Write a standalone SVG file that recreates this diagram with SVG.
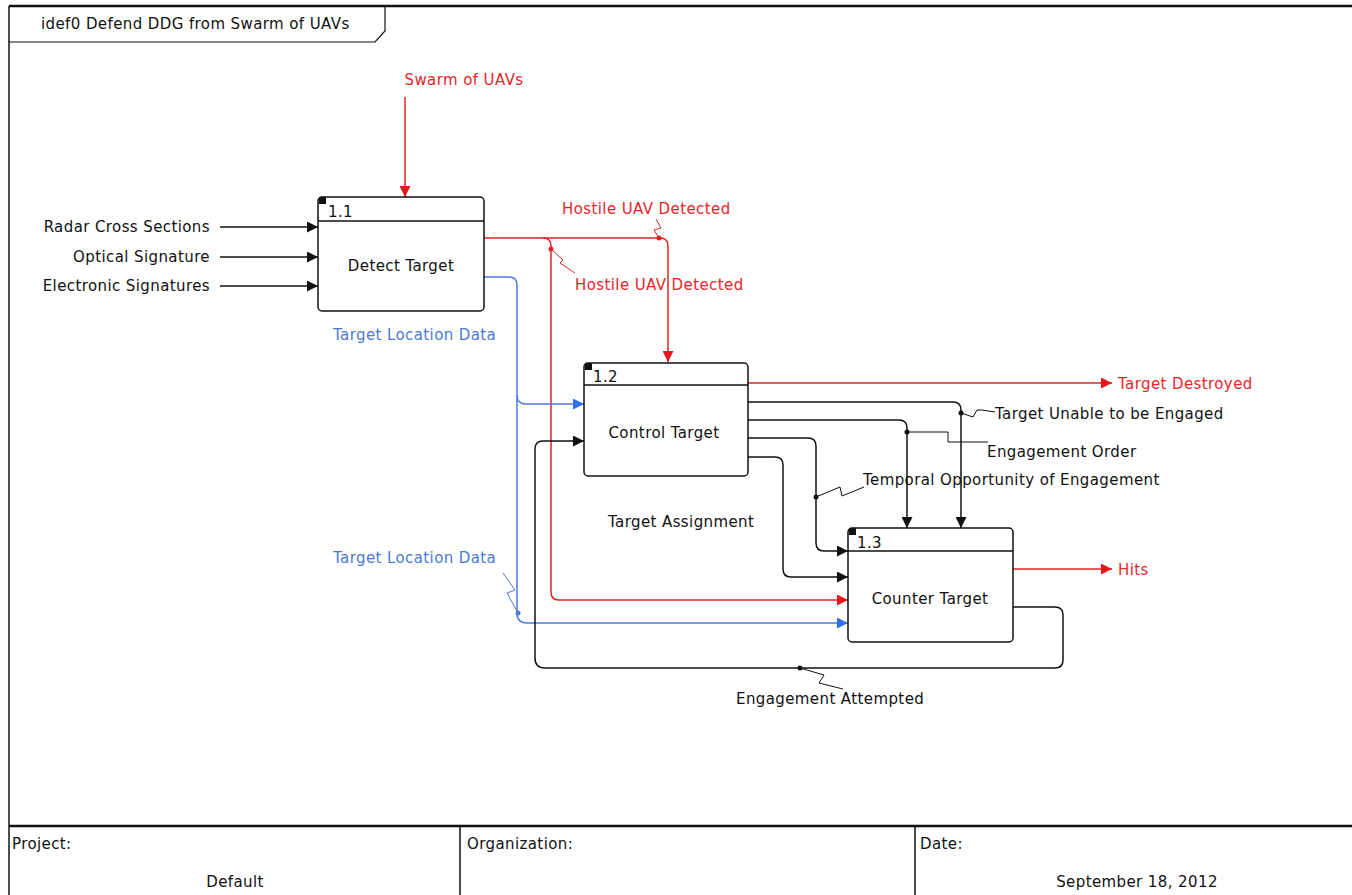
<svg xmlns="http://www.w3.org/2000/svg" width="1352" height="895" viewBox="0 0 1352 895">
<style>
text{font-family:"DejaVu Sans","Liberation Sans",sans-serif;font-size:15px;letter-spacing:0.4px;fill:#111}
.r{fill:#e8262a}.b{fill:#4a7ad6}
.box{fill:#fff;stroke:#111;stroke-width:1.5}
.k{fill:none;stroke:#111;stroke-width:1.5}
.rl{fill:none;stroke:#e02525;stroke-width:1.5}
.bl{fill:none;stroke:#4d7ae0;stroke-width:1.5}
.sq{fill:none;stroke:#111;stroke-width:1}
.sqr{fill:none;stroke:#e02525;stroke-width:1}
.sqb{fill:none;stroke:#4d7ae0;stroke-width:1}
.m{text-anchor:middle}.e{text-anchor:end}
</style>
<defs>
<marker id="ak" viewBox="0 0 10 10" refX="10" refY="5" markerWidth="11" markerHeight="11" markerUnits="userSpaceOnUse" orient="auto"><path d="M0,0L10,5L0,10z" fill="#111"/></marker>
<marker id="ar" viewBox="0 0 10 10" refX="10" refY="5" markerWidth="11" markerHeight="11" markerUnits="userSpaceOnUse" orient="auto"><path d="M0,0L10,5L0,10z" fill="#e8161a"/></marker>
<marker id="ab" viewBox="0 0 10 10" refX="10" refY="5" markerWidth="11" markerHeight="11" markerUnits="userSpaceOnUse" orient="auto"><path d="M0,0L10,5L0,10z" fill="#2f6ff0"/></marker>
</defs>
<rect width="1352" height="895" fill="#fff"/>
<g id="frame">
<path d="M9,6H1352" stroke="#111" stroke-width="2.5" fill="none"/>
<path d="M9,6V895" stroke="#111" stroke-width="1.5" fill="none"/>
<path d="M9,826H1352" stroke="#111" stroke-width="2.5" fill="none"/>
<path d="M460,826V895M915,826V895" stroke="#111" stroke-width="1.5" fill="none"/>
<path d="M9,42H375L385,31V6" stroke="#111" stroke-width="1.2" fill="none"/>
<text x="41" y="29">idef0 Defend DDG from Swarm of UAVs</text>
<text x="12" y="849">Project:</text>
<text x="235" y="887" class="m">Default</text>
<text x="467" y="849">Organization:</text>
<text x="920" y="849">Date:</text>
<text x="1137" y="887" class="m">September 18, 2012</text>
</g>
<g id="connectors">
<path class="k" d="M220,227H318" marker-end="url(#ak)"/>
<path class="k" d="M220,257H318" marker-end="url(#ak)"/>
<path class="k" d="M220,286H318" marker-end="url(#ak)"/>
<path class="rl" d="M405,97V197" marker-end="url(#ar)"/>
<path class="rl" d="M484,238H660Q668,238 668,246V362" marker-end="url(#ar)"/>
<path class="rl" d="M543,238Q551,238 551,246V592Q551,600 559,600H848" marker-end="url(#ar)"/>
<path class="bl" d="M484,277H509Q517,277 517,285V613Q517,623 527,623H848" marker-end="url(#ab)"/>
<path class="bl" d="M517,395Q517,404 526,404H584" marker-end="url(#ab)"/>
<path class="k" d="M1013,607H1055Q1063,607 1063,615V660Q1063,668 1055,668H545Q535,668 535,658V449Q535,441 543,441H584" marker-end="url(#ak)"/>
<path class="rl" d="M748,383H1112" marker-end="url(#ar)"/>
<path class="k" d="M748,402H953Q961,402 961,410V528" marker-end="url(#ak)"/>
<path class="k" d="M748,420H899Q907,420 907,428V528" marker-end="url(#ak)"/>
<path class="k" d="M748,438H808Q816,438 816,446V543Q816,551 824,551H848" marker-end="url(#ak)"/>
<path class="k" d="M748,457H775Q783,457 783,465V569Q783,577 791,577H848" marker-end="url(#ak)"/>
<path class="rl" d="M1013,569H1112" marker-end="url(#ar)"/>
<path class="sqr" d="M659,238L654,230L661,228L656,219"/>
<path class="sqr" d="M551,249L563,260L560,263L575,273"/>
<path class="sqb" d="M503,573L515,590L507,593L518,613"/>
<path class="sq" d="M816,497L840,487L842,496L864,487"/>
<path class="sq" d="M961,413L973,417L977,410L982,410L995,412"/>
<path class="sq" d="M907,432H948V442H988"/>
<path class="sq" d="M800,668L824,675L819,683L843,689"/>
<circle cx="659" cy="238" r="2.5" fill="#e02525"/>
<circle cx="551" cy="249" r="2.5" fill="#e02525"/>
<circle cx="518" cy="613" r="2.5" fill="#4d7ae0"/>
<circle cx="961" cy="413" r="2.5" fill="#111"/>
<circle cx="907" cy="432" r="2.5" fill="#111"/>
<circle cx="816" cy="497" r="2.5" fill="#111"/>
<circle cx="800" cy="668" r="2.5" fill="#111"/>
<text x="210" y="232" class="e">Radar Cross Sections</text>
<text x="210" y="262" class="e">Optical Signature</text>
<text x="210" y="291" class="e">Electronic Signatures</text>
<text x="464" y="85" class="m r">Swarm of UAVs</text>
<text x="562" y="214" class="r">Hostile UAV Detected</text>
<text x="575" y="290" class="r">Hostile UAV Detected</text>
<text x="333" y="340" class="b">Target Location Data</text>
<text x="333" y="563" class="b">Target Location Data</text>
<text x="1118" y="389" class="r">Target Destroyed</text>
<text x="995" y="419">Target Unable to be Engaged</text>
<text x="987" y="457">Engagement Order</text>
<text x="863" y="485">Temporal Opportunity of Engagement</text>
<text x="608" y="527">Target Assignment</text>
<text x="1118" y="575" class="r">Hits</text>
<text x="736" y="704">Engagement Attempted</text>
</g>
<g id="n11">
<rect class="box" x="318" y="197" width="166" height="114" rx="4"/>
<path class="k" d="M318,221H484"/>
<rect x="319" y="197" width="7" height="7" fill="#111"/>
<text x="328" y="217">1.1</text>
<text x="401" y="271" class="m">Detect Target</text>
</g>
<g id="n12">
<rect class="box" x="584" y="363" width="164" height="113" rx="4"/>
<path class="k" d="M584,385H748"/>
<rect x="585" y="363" width="7" height="7" fill="#111"/>
<text x="593" y="382">1.2</text>
<text x="664" y="438" class="m">Control Target</text>
</g>
<g id="n13">
<rect class="box" x="848" y="528" width="165" height="114" rx="4"/>
<path class="k" d="M848,551H1013"/>
<rect x="849" y="528" width="7" height="7" fill="#111"/>
<text x="857" y="548">1.3</text>
<text x="930" y="604" class="m">Counter Target</text>
</g>
</svg>
